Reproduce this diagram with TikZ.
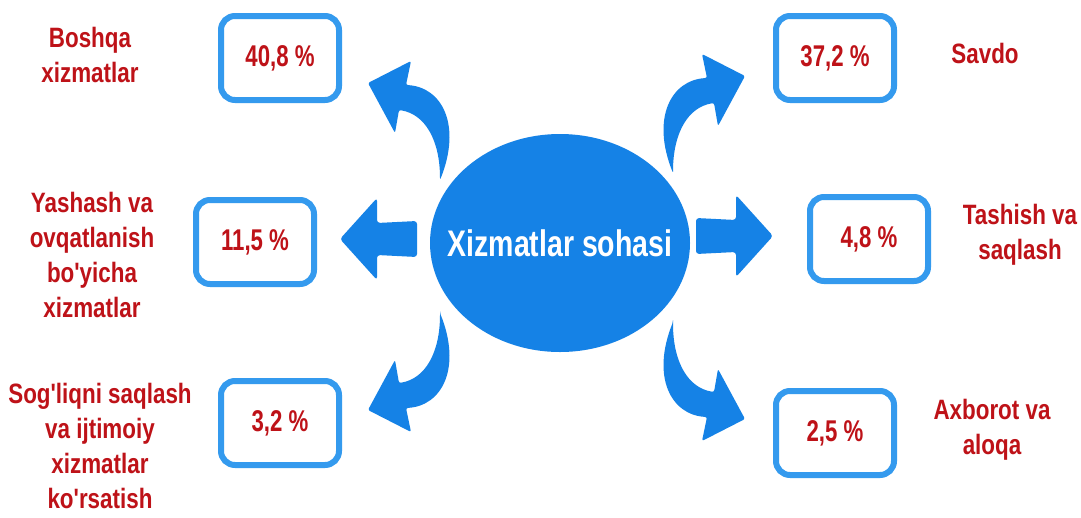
\documentclass[tikz,border=0pt]{standalone}
\usepackage{fontspec}
\usetikzlibrary{shapes.geometric}
\newfontfamily\hubfont[FakeStretch=0.77]{Liberation Sans}
\newfontfamily\pctfont[FakeStretch=0.74]{Liberation Sans}
\newfontfamily\lblfont[FakeStretch=0.8]{Liberation Sans}
\definecolor{hubblue}{RGB}{21,130,230}
\definecolor{boxblue}{RGB}{52,154,238}
\definecolor{sectorred}{RGB}{190,18,24}
\tikzset{
  pics/bentarrow/.style={code={
    \fill[hubblue, rounded corners=2pt] (0,0) .. controls (0,-40) and (-15,-66) .. (-41,-70)
      -- (-45,-47) -- (-72,-97) -- (-29,-119) -- (-34,-95)
      .. controls (2,-93) and (22,-55) .. (0,0) -- cycle;}},
  pics/flatarrow/.style={code={
    \fill[hubblue, rounded corners=3pt] (0,0) -- (37,-41) -- (37,-16) -- (77,-18)
      -- (77,18) -- (37,16) -- (37,41) -- cycle;}}
}
\begin{document}
\begin{tikzpicture}[
  x=1pt, y=-1pt,
  hub/.style={ellipse, fill=hubblue, minimum width=260pt,
    minimum height=218pt, inner sep=0pt},
  hubtext/.style={text=white, inner sep=0pt,
    font=\hubfont\bfseries\fontsize{37}{44}\selectfont},
  pct/.style={draw=boxblue, line width=6pt, rounded corners=14pt, fill=white,
    minimum width=118pt, minimum height=84pt, text=sectorred,
    font=\pctfont\bfseries\fontsize{30}{36}\selectfont},
  lbl/.style={align=center, text=sectorred, inner sep=0pt,
    font=\lblfont\bfseries\fontsize{28}{35}\selectfont}]
\useasboundingbox[fill=white] (0,0) rectangle (1081,517);
% centre
\node[hub, label={[hubtext]center:Xizmatlar sohasi}] (hub) at (560,243) {};
% arrows
\pic at (440,180) {bentarrow};
\pic[xscale=-1] at (673,173) {bentarrow};
\pic[yscale=-1] at (440,313) {bentarrow};
\pic[xscale=-1,yscale=-1] at (673,322) {bentarrow};
\pic at (340,239) {flatarrow};
\pic[xscale=-1] at (773,236) {flatarrow};
% boxes
\node[pct] (boshqa) at (280,58) {40,8 \%};
\node[pct] (savdo) at (835,58) {37,2 \%};
\node[pct] (yashash) at (255,242) {11,5 \%};
\node[pct] (tashish) at (869,239) {4,8 \%};
\node[pct] (sogliq) at (280,423) {3,2 \%};
\node[pct] (axborot) at (835,433) {2,5 \%};
% labels
\node[lbl] (boshqaL) at (90,55) {Boshqa\\xizmatlar};
\node[lbl] (savdoL) at (985,53) {Savdo};
\node[lbl] (yashashL) at (92,255) {Yashash va\\ovqatlanish\\bo'yicha\\xizmatlar};
\node[lbl] (tashishL) at (1020,235) {Tashish va\\saqlash};
\node[lbl] (sogliqL) at (100,446) {Sog'liqni saqlash\\va ijtimoiy\\xizmatlar\\ko'rsatish};
\node[lbl] (axborotL) at (992,430) {Axborot va\\aloqa};
\end{tikzpicture}
\end{document}
